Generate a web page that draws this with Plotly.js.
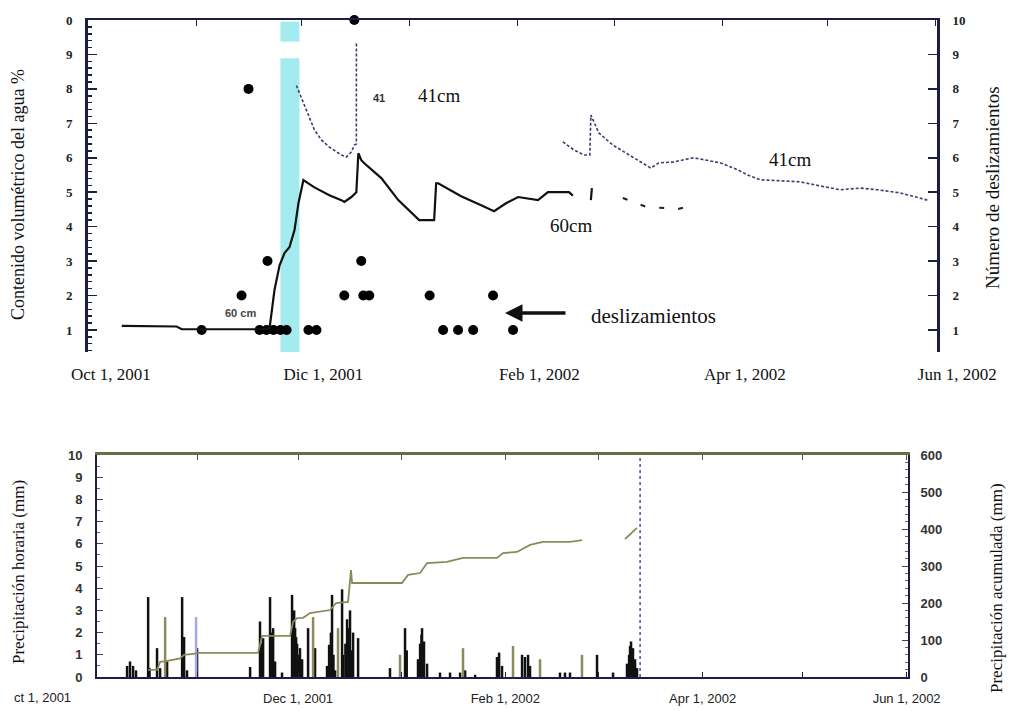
<!DOCTYPE html>
<html><head><meta charset="utf-8">
<script src="https://cdn.plot.ly/plotly-3.0.1.min.js"></script>
<style>html,body{margin:0;padding:0;background:#fff}#chart{width:1009px;height:715px}</style>
</head><body><div id="chart"></div>
<script>
// ---------- TOP PANEL DATA ----------
var wc60Dates = ['2001-10-10 11:00','2001-10-26 05:00','2001-10-27 16:00','2001-11-19 14:00','2001-11-21 21:00','2001-11-23 07:00','2001-11-24 18:00','2001-11-26 04:00','2001-11-27 14:00','2001-11-29 01:00','2001-11-30 04:00','2001-12-01 01:00','2001-12-01 14:00','2001-12-04 18:00','2001-12-09 01:00','2001-12-12 12:00','2001-12-13 08:00','2001-12-15 09:00','2001-12-16 19:00','2001-12-17 09:00','2001-12-18 05:00','2001-12-19 02:00','2001-12-23 23:00','2001-12-28 20:00','2002-01-03 20:00','2002-01-08 03:00','2002-01-08 17:00','2002-01-09 07:00','2002-01-15 21:00','2002-01-21 15:00','2002-01-25 08:00','2002-01-28 18:00','2002-02-01 05:00','2002-02-06 23:00','2002-02-09 19:00','2002-02-15 20:00','2002-02-16 23:00',null,'2002-02-22 03:00','2002-02-22 10:00'];
var wc60Vals  = [1.12,1.10,1.02,1.02,1.05,2.16,2.88,3.23,3.40,3.90,4.68,5.14,5.35,5.14,4.91,4.77,4.72,4.86,5.00,6.13,5.93,5.84,5.41,4.77,4.19,4.19,5.26,5.26,4.88,4.62,4.45,4.68,4.86,4.77,5.00,5.00,4.90,null,4.77,5.12];
var wc60TailDates = ['2002-03-03 07:00','2002-03-09 21:00','2002-03-19 01:00','2002-03-23 08:00'];
var wc60TailVals  = [4.83,4.58,4.51,4.62];

var wc41Dates = ['2001-11-29 14:00','2001-12-01 14:00','2001-12-02 11:00','2001-12-04 18:00','2001-12-06 18:00','2001-12-09 01:00','2001-12-12 12:00','2001-12-13 22:00','2001-12-15 09:00','2001-12-16 05:00','2001-12-16 19:00','2001-12-16 19:30',null,'2002-02-14 02:00','2002-02-17 06:00','2002-02-20 03:00','2002-02-21 20:00','2002-02-22 03:00','2002-02-24 10:00','2002-02-28 10:00','2002-03-04 04:00','2002-03-08 11:00','2002-03-11 08:00','2002-03-13 15:00','2002-03-17 22:00','2002-03-23 15:00','2002-03-31 09:00','2002-04-05 06:00','2002-04-08 03:00','2002-04-11 20:00','2002-04-23 07:00','2002-04-29 01:00','2002-05-04 18:00','2002-05-10 12:00','2002-05-15 09:00','2002-05-21 23:00','2002-05-25 16:00','2002-05-29 17:00'];
var wc41Vals  = [8.10,7.60,7.39,6.81,6.52,6.31,6.08,6.02,6.17,6.37,6.40,9.33,null,6.46,6.23,6.08,6.08,7.24,6.72,6.37,6.14,5.88,5.70,5.85,5.88,6.00,5.85,5.65,5.50,5.36,5.30,5.18,5.07,5.12,5.07,4.98,4.89,4.77];

var slideDates  = ['2001-11-02 09:00','2001-11-13 20:00','2001-11-15 20:00','2001-11-19 00:00','2001-11-21 00:00','2001-11-21 07:00','2001-11-23 00:00','2001-11-25 00:00','2001-11-26 18:00','2001-12-03 01:00','2001-12-05 08:00','2001-12-13 08:00','2001-12-16 05:00','2001-12-18 05:00','2001-12-18 19:00','2001-12-20 12:00','2002-01-06 20:00','2002-01-10 17:00','2002-01-15 00:00','2002-01-19 08:00','2002-01-25 01:00','2002-01-30 19:00'];
var slideCounts = [1,2,8,1,1,3,1,1,1,1,1,2,10,3,2,2,2,1,1,1,2,1];

var bandStart = '2001-11-25 00:00';
var bandEnd   = '2001-11-30 11:00';

var monthTicks = ['2001-10-01','2001-11-01','2001-12-01','2002-01-01','2002-02-01','2002-03-01','2002-04-01','2002-05-01','2002-06-01'];
var topLabelDates = ['2001-10-01','2001-12-01','2002-02-01','2002-04-01','2002-06-01'];
var topLabels = ['Oct 1, 2001','Dic 1, 2001','Feb 1, 2002','Apr 1, 2002','Jun 1, 2002'];
var wcTickVals = [1,2,3,4,5,6,7,8,9,10];
var wcTickText = ['1','2','3','4','5','6','7','8','9','0'];
var slideTickText = ['1','2','3','4','5','6','7','8','9','10'];

// ---------- BOTTOM PANEL DATA ----------
var rainDates = ['2001-10-10 21:00','2001-10-11 18:00','2001-10-12 16:00','2001-10-13 13:00','2001-10-17 04:00','2001-10-19 20:00','2001-10-20 18:00','2001-10-22 20:00','2001-10-27 08:00','2001-10-27 22:00','2001-10-28 19:00','2001-10-31 19:00','2001-11-16 16:00','2001-11-19 15:00','2001-11-20 13:00','2001-11-22 15:00','2001-11-23 13:00','2001-11-24 03:00','2001-11-26 05:00','2001-11-29 05:00','2001-11-29 12:00','2001-11-30 03:00','2001-11-30 17:00','2001-12-01 14:00','2001-12-02 05:00','2001-12-04 00:00','2001-12-06 02:00','2001-12-09 16:00','2001-12-10 07:00','2001-12-11 04:00','2001-12-12 02:00','2001-12-14 04:00','2001-12-14 11:00','2001-12-15 16:00','2001-12-16 13:00','2001-12-17 11:00','2001-12-18 23:00','2001-12-28 12:00','2002-01-02 00:00','2002-01-05 21:00','2002-01-06 12:00','2002-01-07 02:00','2002-01-07 16:00','2002-01-08 14:00','2002-01-12 11:00','2002-01-15 11:00','2002-01-18 11:00','2002-01-19 23:00','2002-01-22 23:00','2002-01-29 12:00','2002-01-30 03:00','2002-01-31 00:00','2002-02-06 00:00','2002-02-06 21:00','2002-02-07 19:00','2002-02-08 09:00','2002-02-17 08:00','2002-02-18 20:00','2002-02-20 08:00','2002-02-28 10:00','2002-03-05 05:00','2002-03-09 09:00','2002-03-10 00:00','2002-03-10 14:00','2002-03-11 04:00','2002-03-11 19:00','2002-03-12 09:00',
  '2001-11-19 22:00','2001-11-22 22:00','2001-11-29 20:00','2001-11-30 10:00','2001-12-01 04:00','2001-12-10 20:00','2001-12-11 14:00','2001-12-15 04:00','2001-12-16 02:00','2001-12-17 00:00','2002-01-06 22:00','2002-03-10 07:00','2001-10-17 14:00','2001-10-27 15:00','2002-01-02 12:00'];
var rainVals = [0.5,0.7,0.5,0.3,3.6,1.3,0.4,0.7,3.6,1.8,0.3,1.3,0.45,2.5,1.75,3.6,2.2,0.7,0.2,3.7,2.5,2.2,1.5,1.3,0.8,2.2,1.3,0.5,1.45,3.7,0.3,3.95,1.0,2.6,3.0,2.0,1.75,0.4,2.2,0.8,1.5,2.2,1.6,0.6,0.2,0.2,0.2,0.3,0.1,0.9,1.1,0.5,1.0,0.9,1.0,0.5,0.2,0.2,0.2,1.0,0.2,0.6,1.0,1.6,1.3,0.8,0.4,
  1.5,2.0,3.0,1.8,1.0,2.0,1.0,1.5,2.2,1.2,1.9,1.4,0.4,0.8,1.2];
var rainOliveDates = ['2001-10-22 06:00','2001-12-05 12:00','2001-12-12 23:00','2001-12-31 12:00','2002-01-19 08:00','2002-02-03 07:00','2002-02-11 09:00','2002-02-23 22:00'];
var rainOliveVals = [2.7,2.7,2.2,1.0,1.3,1.4,0.8,1.0];
var rainBlueDates = ['2001-10-31 12:00'];
var rainBlueVals = [2.7];

var cumDates = ['2001-10-17 04:00','2001-10-19 20:00','2001-10-20 18:00','2001-10-22 13:00','2001-10-26 17:00','2001-10-27 22:00','2001-10-31 05:00','2001-10-31 19:00','2001-11-19 01:00','2001-11-20 06:00','2001-11-28 15:00','2001-11-29 12:00','2001-11-30 17:00','2001-12-02 12:00','2001-12-04 14:00','2001-12-10 14:00','2001-12-12 09:00','2001-12-15 23:00','2001-12-16 20:00','2001-12-17 04:00','2002-01-01 02:00','2002-01-02 22:00','2002-01-06 12:00','2002-01-08 14:00','2002-01-14 13:00','2002-01-19 08:00','2002-01-29 12:00','2002-01-31 07:00','2002-02-04 12:00','2002-02-08 09:00','2002-02-12 06:00','2002-02-20 08:00','2002-02-23 22:00',null,'2002-03-08 19:00','2002-03-12 09:00'];
var cumVals = [19,19,41,43,50,60,63,65,65,111,111,149,159,160,173,181,200,203,289,254,254,276,281,308,311,322,322,335,338,357,365,365,370,null,373,403];

var markerDate = ['2002-03-13 07:00','2002-03-13 07:00'];
var markerRange = [0,600];

var botLabelDates = ['2001-12-01','2002-02-01','2002-04-01','2002-06-01'];
var botLabels = ['Dec 1, 2001','Feb 1, 2002','Apr 1, 2002','Jun 1, 2002'];

// ---------- build ----------
var NAVY = '#1d1d45';
var OLIVE = '#6d6c47';
var serif = 'Liberation Serif, Times New Roman, serif';
var sans = 'Liberation Sans, Arial, sans-serif';
var barW = 0.75 * 86400000;

var botTickText = monthTicks.map(function(d){
  var i = botLabelDates.indexOf(d); return i >= 0 ? botLabels[i] : '';
});

var traces = [
  {x: wc41Dates, y: wc41Vals, xaxis:'x', yaxis:'y', type:'scatter', mode:'lines', connectgaps:false,
   line:{color:'#3c3c6e', width:1.6, dash:'3px,2px'}, hoverinfo:'skip'},
  {x: wc60Dates, y: wc60Vals, xaxis:'x3', yaxis:'y', type:'scatter', mode:'lines', connectgaps:false,
   line:{color:'#111', width:2.2}, hoverinfo:'skip'},
  {x: wc60TailDates, y: wc60TailVals, xaxis:'x3', yaxis:'y', type:'scatter', mode:'lines',
   line:{color:'#222', width:2, dash:'5px,14px'}, hoverinfo:'skip'},
  {x: slideDates, y: slideCounts, xaxis:'x', yaxis:'y2', type:'scatter', mode:'markers', cliponaxis:false,
   marker:{color:'#000', size:10}, hoverinfo:'skip'},
  {x: rainDates, y: rainVals, xaxis:'x2', yaxis:'y3', type:'bar', width: barW,
   marker:{color:'#111', line:{width:0}}, hoverinfo:'skip'},
  {x: rainOliveDates, y: rainOliveVals, xaxis:'x2', yaxis:'y3', type:'bar', width: barW,
   marker:{color:'#8c8a5e', line:{width:0}}, hoverinfo:'skip'},
  {x: rainBlueDates, y: rainBlueVals, xaxis:'x2', yaxis:'y3', type:'bar', width: barW,
   marker:{color:'#a9a9e6', line:{width:0}}, hoverinfo:'skip'},
  {x: cumDates, y: cumVals, xaxis:'x2', yaxis:'y4', type:'scatter', mode:'lines', connectgaps:false,
   line:{color:'#8b8a5c', width:1.8}, hoverinfo:'skip'},
  {x: markerDate, y: markerRange, xaxis:'x4', yaxis:'y4', type:'scatter', mode:'lines',
   line:{color:'#4d4d99', width:1.5, dash:'dot'}, hoverinfo:'skip'}
];

var topRange = ['2001-09-30 18:00','2002-06-01 12:00'];
var botRange = ['2001-10-01 21:00','2002-06-01 10:00'];
var topDom = [88/1009, 937/1009];
var botDom = [97/1009, 908/1009];

function P(px, py){ return {x: px/1009, y: 1 - py/715}; }
function ann(text, px, py, font, extra){
  var p = P(px, py);
  var a = {xref:'paper', yref:'paper', x:p.x, y:p.y, text:text, showarrow:false, font:font, xanchor:'center', yanchor:'middle'};
  for (var k in extra) a[k] = extra[k];
  return a;
}

var layout = {
  width:1009, height:715, margin:{l:0,r:0,t:0,b:0},
  paper_bgcolor:'#fff', plot_bgcolor:'rgba(0,0,0,0)', showlegend:false, barmode:'overlay',
  xaxis:{domain: topDom, type:'date', range: topRange, anchor:'y', side:'top',
    showline:true, linecolor:NAVY, linewidth:2.5, ticks:'inside', ticklen:6, tickcolor:NAVY,
    tickmode:'array', tickvals: monthTicks, showticklabels:false, showgrid:false, zeroline:false},
  xaxis3:{overlaying:'x', type:'date', range: topRange, anchor:'y', side:'bottom',
    showline:false, ticks:'', tickmode:'array', tickvals: topLabelDates, ticktext: topLabels,
    ticklabelshift: 22, ticklabelstandoff: 10,
    tickfont:{family:serif, size:17, color:'#111'}, showgrid:false, zeroline:false},
  yaxis:{domain:[(715-352)/715, (715-20)/715], range:[0.36,10], anchor:'x',
    showline:true, linecolor:NAVY, linewidth:3, ticks:'inside', ticklen:9, tickcolor:NAVY, tickwidth:1.5,
    tickmode:'array', tickvals: wcTickVals, ticktext: wcTickText,
    minor:{tickmode:'linear', tick0:0, dtick:0.2, ticks:'inside', ticklen:4, tickcolor:NAVY, showgrid:false},
    tickfont:{family:serif, size:13, color:'#222', weight:'bold'}, ticklabelstandoff:10,
    showgrid:false, zeroline:false},
  yaxis2:{overlaying:'y', side:'right', anchor:'x', range:[0.36,10],
    showline:true, linecolor:NAVY, linewidth:3, ticks:'inside', ticklen:9, tickcolor:NAVY, tickwidth:1.5,
    tickmode:'array', tickvals: wcTickVals, ticktext: slideTickText,
    tickfont:{family:serif, size:13, color:'#222', weight:'bold'}, ticklabelstandoff:10,
    showgrid:false, zeroline:false},
  xaxis2:{domain: botDom, type:'date', range: botRange, anchor:'y3', side:'bottom',
    showline:true, linecolor:NAVY, linewidth:2, ticks:'inside', ticklen:5, tickcolor:NAVY,
    tickmode:'array', tickvals: monthTicks, ticktext: botTickText, ticklabelstandoff:8,
    tickfont:{family:sans, size:13, color:'#222'}, showgrid:false, zeroline:false},
  xaxis4:{overlaying:'x2', type:'date', range: botRange, anchor:'y3', side:'top',
    showline:true, linecolor:OLIVE, linewidth:3, ticks:'inside', ticklen:5, tickcolor:'#555',
    tickmode:'array', tickvals: monthTicks, showticklabels:false, showgrid:false, zeroline:false},
  yaxis3:{domain:[(715-677)/715, (715-455)/715], range:[0,10], anchor:'x2',
    showline:true, linecolor:NAVY, linewidth:2, ticks:'inside', ticklen:6, tickcolor:'#444',
    dtick:1, tick0:0,
    minor:{tickmode:'linear', tick0:0, dtick:0.5, ticks:'inside', ticklen:3, tickcolor:'#666', showgrid:false},
    tickfont:{family:sans, size:13, color:'#333', weight:'bold'}, ticklabelstandoff:10, showgrid:false, zeroline:false},
  yaxis4:{overlaying:'y3', side:'right', anchor:'x2', range:[0,600],
    showline:true, linecolor:NAVY, linewidth:2, ticks:'inside', ticklen:6, tickcolor:'#444',
    dtick:100, tick0:0,
    minor:{tickmode:'linear', tick0:0, dtick:20, ticks:'inside', ticklen:3, tickcolor:'#666', showgrid:false},
    tickfont:{family:sans, size:13, color:'#333', weight:'bold'}, ticklabelstandoff:8, showgrid:false, zeroline:false},
  shapes:[
    {type:'rect', layer:'below', xref:'x', yref:'y domain', x0: bandStart, x1: bandEnd, y0:0, y1:0.885,
     fillcolor:'#a4ebf0', line:{width:0}},
    {type:'rect', layer:'below', xref:'x', yref:'y domain', x0: bandStart, x1: bandEnd, y0:0.935, y1:0.995,
     fillcolor:'#a4ebf0', line:{width:0}}
  ],
  annotations:[
    ann('41cm', 439, 95, {family:serif, size:19, color:'#111'}),
    ann('41', 379, 98, {family:sans, size:11, color:'#333', weight:'bold'}),
    ann('60cm', 571, 225, {family:serif, size:19, color:'#111'}),
    ann('41cm', 790, 160, {family:serif, size:19, color:'#111'}),
    ann('60 cm', 240, 313, {family:sans, size:11, color:'#444', weight:'bold'}),
    ann('deslizamientos', 653, 316, {family:serif, size:21, color:'#111'}),
    {xref:'paper', yref:'paper', x:505/1009, y:1-313/715, ax:62, ay:0, axref:'pixel', ayref:'pixel',
     text:'', showarrow:true, arrowhead:2, arrowsize:1, arrowwidth:3.5, arrowcolor:'#111'},
    ann('Contenido volumétrico del agua %', 18, 195, {family:serif, size:18, color:'#111'}, {textangle:-90}),
    ann('Número de deslizamientos', 993, 188, {family:serif, size:19, color:'#111'}, {textangle:-90}),
    ann('Precipitación horaria (mm)', 18, 572, {family:serif, size:17, color:'#111'}, {textangle:-90}),
    ann('Precipitación acumulada (mm)', 996, 588, {family:serif, size:17, color:'#111'}, {textangle:-90}),
    ann('ct 1, 2001', 42, 697, {family:sans, size:13, color:'#222'})
  ]
};

Plotly.newPlot('chart', traces, layout, {displayModeBar:false, staticPlot:true});
</script></body></html>
